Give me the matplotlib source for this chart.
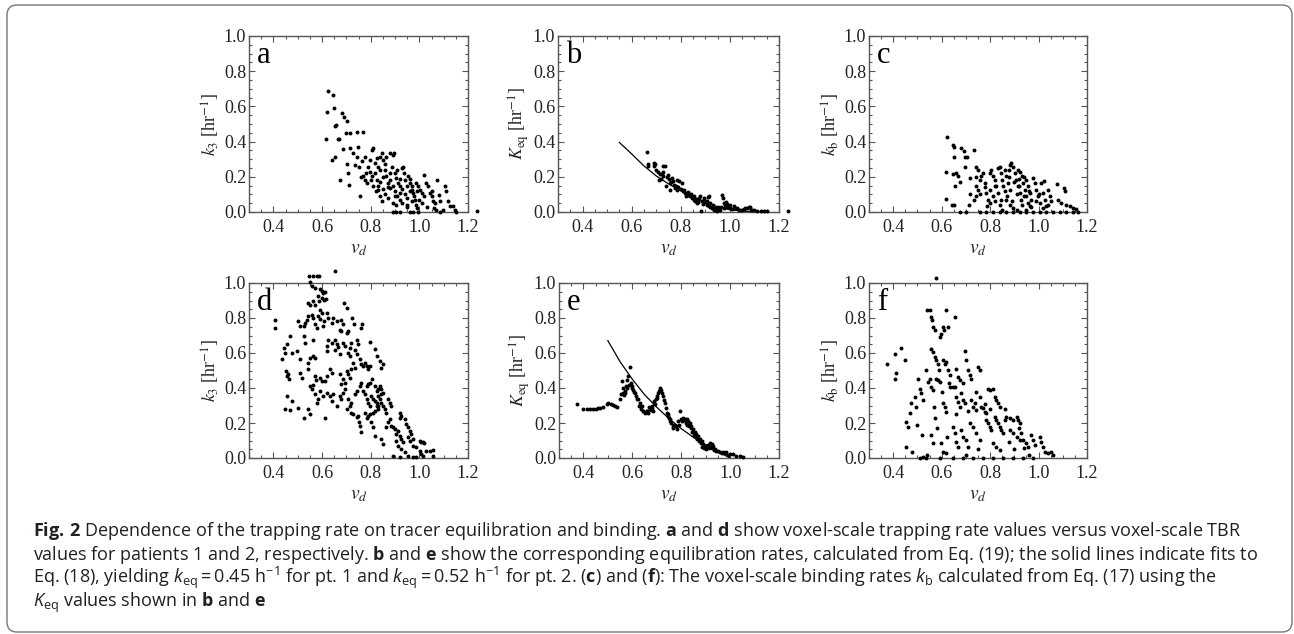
import matplotlib.pyplot as plt
from matplotlib.patches import FancyBboxPatch
from matplotlib.transforms import IdentityTransform
from matplotlib.ticker import FixedLocator, MultipleLocator, FormatStrFormatter

# ---- data (v_d, rate) ----
pts_a = [(0.624, 0.687), (0.647, 0.662), (0.620, 0.566), (0.651, 0.589), (0.652, 0.490), (0.656, 0.492),
         (0.617, 0.413), (0.665, 0.413), (0.671, 0.415), (0.681, 0.560), (0.691, 0.542), (0.704, 0.517),
         (0.697, 0.450), (0.715, 0.447), (0.745, 0.453), (0.770, 0.457), (0.643, 0.296), (0.652, 0.315),
         (0.685, 0.358), (0.674, 0.179), (0.701, 0.274), (0.708, 0.220), (0.711, 0.155), (0.715, 0.362),
         (0.729, 0.334), (0.749, 0.368), (0.742, 0.315), (0.735, 0.268), (0.753, 0.258), (0.763, 0.287),
         (0.777, 0.315), (0.756, 0.089), (0.770, 0.202), (0.777, 0.183), (0.783, 0.164), (0.790, 0.258),
         (0.797, 0.296), (0.804, 0.353), (0.811, 0.362), (0.797, 0.230), (0.804, 0.202), (0.811, 0.145),
         (0.817, 0.277), (0.824, 0.306), (0.831, 0.258), (0.838, 0.315), (0.845, 0.334), (0.817, 0.221),
         (0.824, 0.183), (0.831, 0.126), (0.838, 0.089), (0.845, 0.060), (0.852, 0.296), (0.859, 0.240),
         (0.865, 0.202), (0.872, 0.164), (0.879, 0.136), (0.865, 0.315), (0.879, 0.334), (0.893, 0.325),
         (0.897, 0.338), (0.886, 0.258), (0.900, 0.221), (0.906, 0.192), (0.913, 0.164), (0.920, 0.145),
         (0.890, 0.000), (0.906, 0.000), (0.920, 0.000), (0.900, 0.089), (0.906, 0.042), (0.920, 0.070),
         (0.927, 0.249), (0.934, 0.258), (0.937, 0.221), (0.941, 0.183), (0.948, 0.145), (0.954, 0.202),
         (0.961, 0.164), (0.968, 0.126), (0.975, 0.108), (0.982, 0.070), (0.988, 0.038), (0.995, 0.000),
         (0.948, 0.042), (0.961, 0.000), (0.975, 0.000), (0.988, 0.164), (0.995, 0.145), (1.002, 0.126),
         (1.009, 0.108), (1.018, 0.211), (1.029, 0.164), (1.036, 0.145), (1.043, 0.108), (1.050, 0.089),
         (1.056, 0.060), (1.063, 0.051), (1.074, 0.183), (1.081, 0.098), (1.086, 0.060), (1.104, 0.145),
         (1.111, 0.117), (1.118, 0.060), (1.125, 0.032), (1.070, 0.013), (1.084, 0.000), (1.097, 0.013),
         (1.138, 0.032), (1.145, 0.013), (1.152, 0.000), (1.237, 0.004),
         (0.82, 0.12), (0.83, 0.15), (0.84, 0.17), (0.85, 0.13), (0.86, 0.10), (0.87, 0.08), (0.88, 0.18),
         (0.89, 0.15), (0.90, 0.12), (0.91, 0.09), (0.92, 0.11), (0.93, 0.13), (0.94, 0.10), (0.95, 0.08),
         (0.96, 0.12), (0.97, 0.06), (0.98, 0.09), (0.99, 0.12), (1.00, 0.07), (1.01, 0.05), (1.02, 0.09),
         (1.03, 0.03), (0.86, 0.27), (0.88, 0.22), (0.91, 0.24), (0.93, 0.05), (0.95, 0.03), (0.97, 0.15),
         (0.80, 0.18), (0.78, 0.22), (0.76, 0.20), (0.85, 0.20), (0.87, 0.14), (0.89, 0.05), (1.05, 0.12),
         (1.06, 0.02), (0.99, 0.02), (0.96, 0.19), (0.92, 0.19), (0.84, 0.24)]

pts_b = [(0.661, 0.340), (0.665, 0.264), (0.689, 0.281), (0.695, 0.274), (0.691, 0.259), (0.709, 0.230),
         (0.715, 0.217), (0.712, 0.183), (0.722, 0.217), (0.729, 0.202), (0.729, 0.259), (0.736, 0.259),
         (0.743, 0.198), (0.750, 0.187), (0.756, 0.164), (0.763, 0.192), (0.767, 0.174), (0.773, 0.155),
         (0.777, 0.136), (0.784, 0.126), (0.786, 0.183), (0.794, 0.174), (0.804, 0.164), (0.811, 0.117),
         (0.818, 0.108), (0.824, 0.108), (0.831, 0.098), (0.838, 0.089), (0.845, 0.079), (0.852, 0.070),
         (0.859, 0.060), (0.865, 0.051), (0.872, 0.055), (0.879, 0.089), (0.881, 0.004), (0.893, 0.070),
         (0.900, 0.055), (0.906, 0.042), (0.913, 0.032), (0.920, 0.028), (0.927, 0.023), (0.934, 0.013),
         (0.941, 0.009), (0.948, 0.004), (0.961, 0.013), (0.967, 0.098), (0.970, 0.079), (0.974, 0.051),
         (0.981, 0.042), (0.988, 0.028), (0.995, 0.036), (1.002, 0.023), (1.009, 0.017), (1.015, 0.032),
         (1.029, 0.023), (1.036, 0.013), (1.043, 0.009), (1.056, 0.017), (1.070, 0.023), (1.077, 0.026),
         (1.084, 0.013), (1.097, 0.009), (1.111, 0.004), (1.125, 0.004), (1.138, 0.004), (1.152, 0.004),
         (1.237, 0.004),
         (0.668, 0.27), (0.70, 0.24), (0.72, 0.19), (0.74, 0.145), (0.756, 0.126), (0.76, 0.17), (0.78, 0.15),
         (0.79, 0.14), (0.80, 0.13), (0.815, 0.125), (0.82, 0.09), (0.83, 0.115), (0.84, 0.10), (0.85, 0.085),
         (0.855, 0.09), (0.86, 0.075), (0.87, 0.065), (0.875, 0.08), (0.885, 0.06), (0.89, 0.045),
         (0.895, 0.08), (0.905, 0.065), (0.91, 0.085), (0.915, 0.09), (0.92, 0.05), (0.93, 0.04),
         (0.935, 0.025), (0.945, 0.02), (0.95, 0.03), (0.955, 0.015), (0.965, 0.03), (0.975, 0.02),
         (0.985, 0.055), (0.99, 0.045), (1.00, 0.04), (1.02, 0.02), (1.05, 0.01), (1.06, 0.02), (1.08, 0.03),
         (1.09, 0.01), (0.746, 0.21), (0.727, 0.23)]

pts_c = [(0.623, 0.425), (0.619, 0.228), (0.616, 0.075), (0.647, 0.381), (0.650, 0.370), (0.651, 0.315),
         (0.647, 0.215), (0.658, 0.221), (0.644, 0.038), (0.651, 0.042), (0.656, 0.145), (0.669, 0.206),
         (0.674, 0.168), (0.681, 0.366), (0.691, 0.349), (0.695, 0.315), (0.695, 0.258), (0.706, 0.315),
         (0.716, 0.192), (0.718, 0.102), (0.711, 0.042), (0.733, 0.353), (0.743, 0.258), (0.750, 0.240),
         (0.743, 0.145), (0.750, 0.126), (0.733, 0.070), (0.743, 0.089), (0.757, 0.183), (0.764, 0.202),
         (0.771, 0.221), (0.778, 0.164), (0.784, 0.108), (0.791, 0.070), (0.787, 0.032), (0.798, 0.221),
         (0.805, 0.240), (0.812, 0.202), (0.819, 0.183), (0.798, 0.126), (0.812, 0.089), (0.819, 0.060),
         (0.826, 0.145), (0.833, 0.249), (0.839, 0.258), (0.846, 0.221), (0.850, 0.183), (0.833, 0.108),
         (0.839, 0.042), (0.846, 0.070), (0.853, 0.145), (0.860, 0.240), (0.867, 0.202), (0.874, 0.164),
         (0.881, 0.126), (0.881, 0.268), (0.888, 0.277), (0.895, 0.258), (0.867, 0.070), (0.881, 0.042),
         (0.895, 0.023), (0.901, 0.221), (0.908, 0.183), (0.915, 0.145), (0.922, 0.108), (0.929, 0.070),
         (0.915, 0.240), (0.922, 0.230), (0.933, 0.202), (0.936, 0.164), (0.943, 0.126), (0.950, 0.089),
         (0.957, 0.051), (0.963, 0.032), (0.950, 0.183), (0.957, 0.145), (0.963, 0.108), (0.970, 0.070),
         (0.977, 0.192), (0.984, 0.164), (0.991, 0.126), (0.998, 0.089), (1.005, 0.051), (1.011, 0.164),
         (1.018, 0.108), (1.025, 0.070), (1.032, 0.032), (1.022, 0.177), (1.039, 0.126), (1.046, 0.089),
         (1.053, 0.060), (1.076, 0.158), (1.080, 0.070), (1.104, 0.136), (1.109, 0.117), (1.094, 0.051),
         (1.115, 0.042), (1.128, 0.032), (1.142, 0.023), (1.156, 0.017),
         (0.674, 0.0), (0.702, 0.0), (0.757, 0.0), (0.784, 0.0), (0.812, 0.0), (0.839, 0.0), (0.867, 0.0),
         (0.895, 0.0), (0.922, 0.0), (0.950, 0.0), (0.977, 0.0), (1.005, 0.0), (1.032, 0.0), (1.060, 0.0),
         (1.087, 0.0), (1.115, 0.0), (1.142, 0.0), (1.163, 0.0),
         (0.86, 0.12), (0.87, 0.09), (0.89, 0.06), (0.91, 0.10), (0.92, 0.15), (0.93, 0.04), (0.94, 0.09),
         (0.96, 0.12), (0.97, 0.03), (0.99, 0.06), (1.00, 0.10), (1.02, 0.02), (1.04, 0.04), (0.88, 0.20),
         (0.90, 0.17), (0.94, 0.20), (0.82, 0.15), (0.80, 0.05), (0.78, 0.14), (0.76, 0.10), (0.74, 0.20),
         (0.88, 0.24), (0.92, 0.19), (0.95, 0.01), (0.85, 0.01), (0.91, 0.01)]

pts_d = [(0.548, 1.038), (0.565, 1.038), (0.578, 1.038), (0.588, 1.038), (0.653, 1.066), (0.551, 1.003),
         (0.558, 0.981), (0.571, 0.972), (0.592, 0.966), (0.599, 0.953), (0.605, 0.943), (0.612, 0.949),
         (0.544, 0.886), (0.551, 0.877), (0.565, 0.896), (0.571, 0.877), (0.585, 0.924), (0.589, 0.896),
         (0.599, 0.915), (0.608, 0.901), (0.616, 0.909), (0.592, 0.848), (0.599, 0.829), (0.408, 0.786),
         (0.408, 0.744), (0.503, 0.782), (0.510, 0.753), (0.524, 0.753), (0.531, 0.772), (0.537, 0.786),
         (0.544, 0.810), (0.558, 0.820), (0.565, 0.801), (0.571, 0.763), (0.578, 0.744), (0.585, 0.810),
         (0.592, 0.795), (0.605, 0.753), (0.608, 0.782), (0.619, 0.829), (0.626, 0.801), (0.640, 0.772),
         (0.646, 0.801), (0.660, 0.782), (0.690, 0.886), (0.701, 0.858), (0.680, 0.791), (0.687, 0.763),
         (0.674, 0.734), (0.680, 0.725), (0.701, 0.715), (0.708, 0.725), (0.725, 0.801), (0.731, 0.763),
         (0.760, 0.744), (0.765, 0.763), (0.742, 0.677), (0.749, 0.649), (0.721, 0.658), (0.715, 0.630),
         (0.687, 0.658), (0.694, 0.639), (0.653, 0.677), (0.660, 0.649), (0.667, 0.636), (0.626, 0.677),
         (0.640, 0.658), (0.565, 0.677), (0.524, 0.696), (0.531, 0.658), (0.469, 0.696), (0.476, 0.601),
         (0.442, 0.630), (0.458, 0.649), (0.449, 0.601), (0.435, 0.563), (0.496, 0.611), (0.510, 0.563),
         (0.544, 0.544), (0.551, 0.573), (0.565, 0.582), (0.571, 0.573), (0.619, 0.639), (0.619, 0.611),
         (0.653, 0.620), (0.674, 0.592), (0.708, 0.601), (0.715, 0.582), (0.735, 0.620), (0.742, 0.592),
         (0.796, 0.662), (0.817, 0.624), (0.824, 0.582), (0.837, 0.554), (0.844, 0.516), (0.851, 0.535),
         (0.776, 0.544), (0.783, 0.525), (0.790, 0.507), (0.796, 0.525), (0.756, 0.563), (0.762, 0.535),
         (0.769, 0.525), (0.728, 0.544), (0.735, 0.516), (0.721, 0.507), (0.701, 0.497), (0.708, 0.478),
         (0.715, 0.459), (0.687, 0.450), (0.694, 0.431), (0.674, 0.478), (0.680, 0.421), (0.633, 0.507),
         (0.640, 0.488), (0.619, 0.469), (0.612, 0.440), (0.592, 0.459), (0.599, 0.440), (0.571, 0.469),
         (0.575, 0.446), (0.544, 0.507), (0.551, 0.412), (0.510, 0.488), (0.517, 0.459), (0.462, 0.478),
         (0.466, 0.454), (0.458, 0.469), (0.453, 0.497), (0.455, 0.355), (0.476, 0.326), (0.449, 0.279),
         (0.469, 0.275), (0.524, 0.231), (0.503, 0.288), (0.544, 0.279), (0.551, 0.250), (0.578, 0.317),
         (0.585, 0.336), (0.571, 0.364), (0.558, 0.393), (0.565, 0.416), (0.592, 0.383), (0.605, 0.355),
         (0.619, 0.374), (0.612, 0.231), (0.633, 0.355), (0.640, 0.326), (0.646, 0.364), (0.660, 0.298),
         (0.674, 0.355), (0.680, 0.336), (0.687, 0.374), (0.694, 0.393), (0.708, 0.336), (0.701, 0.279),
         (0.715, 0.298), (0.721, 0.317), (0.735, 0.364), (0.742, 0.383), (0.756, 0.412), (0.762, 0.431),
         (0.769, 0.383), (0.776, 0.364), (0.783, 0.412), (0.790, 0.421), (0.799, 0.427), (0.807, 0.450),
         (0.817, 0.412), (0.824, 0.383), (0.831, 0.397), (0.837, 0.412), (0.844, 0.393), (0.851, 0.374),
         (0.844, 0.364), (0.831, 0.355), (0.803, 0.355), (0.810, 0.336), (0.817, 0.326), (0.824, 0.317),
         (0.831, 0.298), (0.783, 0.336), (0.790, 0.317), (0.796, 0.298), (0.721, 0.260), (0.728, 0.250),
         (0.742, 0.237), (0.749, 0.241), (0.753, 0.203), (0.756, 0.184), (0.762, 0.146), (0.776, 0.260),
         (0.783, 0.231), (0.790, 0.241), (0.796, 0.250), (0.803, 0.203), (0.810, 0.260), (0.817, 0.269),
         (0.824, 0.298), (0.831, 0.279), (0.837, 0.336), (0.844, 0.317), (0.851, 0.298), (0.858, 0.279),
         (0.865, 0.260), (0.871, 0.336), (0.878, 0.317), (0.885, 0.298), (0.810, 0.175), (0.817, 0.127),
         (0.844, 0.108), (0.851, 0.080), (0.865, 0.175), (0.871, 0.203), (0.878, 0.222), (0.885, 0.184),
         (0.892, 0.175), (0.899, 0.165), (0.905, 0.137), (0.912, 0.156), (0.919, 0.260), (0.919, 0.231),
         (0.926, 0.241), (0.919, 0.127), (0.926, 0.108), (0.933, 0.089), (0.905, 0.099), (0.940, 0.222),
         (0.946, 0.194), (0.953, 0.175), (0.960, 0.156), (0.967, 0.137), (0.953, 0.118), (0.960, 0.099),
         (0.974, 0.108), (1.001, 0.099), (1.008, 0.089), (1.015, 0.093), (1.021, 0.084), (0.974, 0.070),
         (0.987, 0.061), (1.001, 0.042), (1.008, 0.023), (1.015, 0.013), (1.028, 0.042), (1.042, 0.042),
         (1.055, 0.046), (0.912, 0.070), (0.926, 0.051), (0.940, 0.036), (0.953, 0.013), (0.974, 0.004),
         (0.987, 0.004), (0.892, 0.013), (0.919, 0.004), (1.055, 0.013)]

pts_e = [(0.375, 0.306), (0.399, 0.278), (0.413, 0.278), (0.427, 0.278), (0.438, 0.278), (0.451, 0.282),
         (0.461, 0.284), (0.467, 0.285), (0.481, 0.289), (0.495, 0.306), (0.502, 0.312), (0.511, 0.306),
         (0.522, 0.301), (0.529, 0.297), (0.538, 0.293), (0.549, 0.335), (0.552, 0.363), (0.556, 0.439),
         (0.560, 0.401), (0.563, 0.372), (0.570, 0.382), (0.576, 0.410), (0.579, 0.448), (0.583, 0.467),
         (0.590, 0.520), (0.587, 0.420), (0.597, 0.401), (0.604, 0.391), (0.610, 0.372), (0.615, 0.354),
         (0.624, 0.335), (0.631, 0.316), (0.638, 0.297), (0.645, 0.268), (0.651, 0.259), (0.658, 0.268),
         (0.665, 0.259), (0.672, 0.282), (0.679, 0.287), (0.685, 0.268), (0.689, 0.325), (0.696, 0.335),
         (0.702, 0.354), (0.706, 0.372), (0.710, 0.382), (0.715, 0.401), (0.719, 0.391), (0.726, 0.354),
         (0.733, 0.316), (0.737, 0.287), (0.740, 0.259), (0.747, 0.240), (0.753, 0.221), (0.760, 0.202),
         (0.767, 0.174), (0.767, 0.183), (0.778, 0.183), (0.783, 0.164), (0.787, 0.212), (0.797, 0.268),
         (0.801, 0.221), (0.808, 0.231), (0.815, 0.225), (0.822, 0.221), (0.828, 0.212), (0.835, 0.202),
         (0.842, 0.183), (0.849, 0.164), (0.856, 0.146), (0.862, 0.136), (0.869, 0.127), (0.876, 0.108),
         (0.883, 0.098), (0.890, 0.079), (0.896, 0.070), (0.903, 0.066), (0.910, 0.074), (0.917, 0.085),
         (0.924, 0.079), (0.930, 0.070), (0.937, 0.051), (0.944, 0.042), (0.958, 0.036), (0.971, 0.036),
         (0.985, 0.032), (0.999, 0.023), (1.012, 0.023), (1.026, 0.013), (1.039, 0.013), (1.053, 0.004),
         (0.565, 0.36), (0.572, 0.37), (0.580, 0.40), (0.593, 0.43), (0.600, 0.41), (0.607, 0.38),
         (0.618, 0.34), (0.628, 0.30), (0.635, 0.28), (0.642, 0.27), (0.655, 0.262), (0.662, 0.27),
         (0.668, 0.29), (0.676, 0.275), (0.682, 0.30), (0.692, 0.31), (0.699, 0.345), (0.712, 0.39),
         (0.722, 0.37), (0.729, 0.33), (0.744, 0.25), (0.750, 0.23), (0.756, 0.21), (0.771, 0.19),
         (0.790, 0.19), (0.805, 0.21), (0.812, 0.22), (0.818, 0.20), (0.825, 0.19), (0.832, 0.185),
         (0.838, 0.17), (0.845, 0.15), (0.852, 0.13), (0.859, 0.12), (0.866, 0.11), (0.872, 0.10),
         (0.880, 0.085), (0.887, 0.065), (0.894, 0.055), (0.900, 0.050), (0.914, 0.060), (0.920, 0.065),
         (0.927, 0.055), (0.934, 0.045), (0.950, 0.040), (0.965, 0.03), (0.978, 0.028), (0.992, 0.02)]

pts_f = [(0.575, 1.030), (0.374, 0.536), (0.406, 0.593), (0.409, 0.454), (0.413, 0.483), (0.433, 0.631),
         (0.447, 0.559), (0.454, 0.207), (0.461, 0.179), (0.451, 0.065), (0.468, 0.255), (0.475, 0.312),
         (0.479, 0.032), (0.489, 0.350), (0.495, 0.293), (0.498, 0.188), (0.502, 0.454), (0.509, 0.397),
         (0.516, 0.369), (0.523, 0.331), (0.523, 0.008), (0.537, 0.502), (0.544, 0.435), (0.551, 0.454),
         (0.541, 0.844), (0.551, 0.848), (0.557, 0.806), (0.561, 0.787), (0.564, 0.749), (0.571, 0.730),
         (0.557, 0.625), (0.564, 0.606), (0.571, 0.578), (0.578, 0.559), (0.585, 0.540), (0.589, 0.502),
         (0.557, 0.407), (0.564, 0.388), (0.567, 0.293), (0.578, 0.454), (0.585, 0.445), (0.592, 0.435),
         (0.557, 0.131), (0.564, 0.084), (0.571, 0.226), (0.592, 0.692), (0.598, 0.711), (0.605, 0.749),
         (0.608, 0.730), (0.619, 0.844), (0.626, 0.749), (0.605, 0.559), (0.612, 0.540), (0.619, 0.549),
         (0.626, 0.502), (0.633, 0.473), (0.605, 0.312), (0.612, 0.293), (0.619, 0.264), (0.598, 0.084),
         (0.605, 0.036), (0.619, 0.027), (0.633, 0.407), (0.647, 0.407), (0.654, 0.407), (0.654, 0.806),
         (0.661, 0.511), (0.668, 0.464), (0.675, 0.445), (0.661, 0.350), (0.668, 0.321), (0.675, 0.293),
         (0.647, 0.179), (0.654, 0.141), (0.661, 0.093), (0.668, 0.065), (0.681, 0.369), (0.688, 0.331),
         (0.695, 0.312), (0.695, 0.612), (0.702, 0.559), (0.709, 0.502), (0.716, 0.473), (0.681, 0.160),
         (0.688, 0.122), (0.702, 0.103), (0.709, 0.065), (0.723, 0.331), (0.729, 0.293), (0.736, 0.312),
         (0.743, 0.274), (0.723, 0.454), (0.750, 0.521), (0.757, 0.502), (0.716, 0.198), (0.729, 0.179),
         (0.743, 0.141), (0.757, 0.103), (0.764, 0.293), (0.771, 0.283), (0.778, 0.264), (0.785, 0.255),
         (0.791, 0.397), (0.798, 0.388), (0.812, 0.397), (0.785, 0.217), (0.791, 0.198), (0.798, 0.179),
         (0.805, 0.160), (0.819, 0.350), (0.826, 0.331), (0.833, 0.312), (0.840, 0.293), (0.819, 0.236),
         (0.826, 0.217), (0.833, 0.198), (0.840, 0.179), (0.847, 0.160), (0.853, 0.141), (0.812, 0.084),
         (0.826, 0.065), (0.840, 0.046), (0.860, 0.217), (0.867, 0.236), (0.881, 0.226), (0.895, 0.217),
         (0.881, 0.160), (0.895, 0.141), (0.909, 0.122), (0.922, 0.103), (0.909, 0.236), (0.915, 0.217),
         (0.922, 0.198), (0.929, 0.141), (0.936, 0.103), (0.950, 0.084), (0.957, 0.065), (0.970, 0.131),
         (0.977, 0.103), (0.984, 0.074), (1.005, 0.122), (1.011, 0.093), (1.018, 0.065), (1.025, 0.036),
         (1.039, 0.027), (1.053, 0.036), (1.060, 0.017),
         (0.509, 0.0), (0.537, 0.0), (0.592, 0.0), (0.647, 0.0), (0.688, 0.0), (0.729, 0.0), (0.771, 0.0),
         (0.812, 0.0), (0.853, 0.0), (0.895, 0.0), (0.936, 0.0), (0.977, 0.0),
         (0.60, 0.38), (0.63, 0.43), (0.66, 0.25), (0.69, 0.43), (0.71, 0.27), (0.74, 0.38), (0.76, 0.35),
         (0.78, 0.31), (0.80, 0.28), (0.86, 0.28), (0.88, 0.09), (0.90, 0.05), (0.92, 0.17), (0.94, 0.06),
         (0.96, 0.02), (0.52, 0.13), (0.54, 0.02), (0.58, 0.17), (0.62, 0.12), (0.70, 0.02), (0.75, 0.05)]

# fitted curves
fit_b_x = [0.55, 0.60, 0.65, 0.70, 0.75, 0.80, 0.85, 0.90, 0.95, 1.00, 1.05, 1.10, 1.15]
fit_b_y = [0.395, 0.330, 0.262, 0.205, 0.160, 0.120, 0.085, 0.055, 0.030, 0.013, 0.005, 0.001, 0.0]
fit_e_x = [0.50, 0.55, 0.60, 0.65, 0.70, 0.75, 0.80, 0.85, 0.90, 0.95, 1.00]
fit_e_y = [0.670, 0.550, 0.450, 0.362, 0.290, 0.225, 0.168, 0.118, 0.075, 0.036, 0.0]

ylabels = [r"$k_3$ [hr$^{-1}$]", r"$K_{\mathrm{eq}}$ [hr$^{-1}$]", r"$k_{\mathrm{b}}$ [hr$^{-1}$]"]
letters = ["a", "b", "c", "d", "e", "f"]

caption = [
    r"$\mathbf{Fig.\,2}$ Dependence of the trapping rate on tracer equilibration and binding. "
    r"$\mathbf{a}$ and $\mathbf{d}$ show voxel-scale trapping rate values versus voxel-scale TBR",
    r"values for patients 1 and 2, respectively. $\mathbf{b}$ and $\mathbf{e}$ show the corresponding "
    r"equilibration rates, calculated from Eq. (19); the solid lines indicate fits to",
    r"Eq. (18), yielding $k_{\mathrm{eq}}=0.45\ \mathrm{h}^{-1}$ for pt. 1 and "
    r"$k_{\mathrm{eq}}=0.52\ \mathrm{h}^{-1}$ for pt. 2. ($\mathbf{c}$) and ($\mathbf{f}$): "
    r"The voxel-scale binding rates $k_{\mathrm{b}}$ calculated from Eq. (17) using the",
    r"$K_{\mathrm{eq}}$ values shown in $\mathbf{b}$ and $\mathbf{e}$",
]

SERIF = "Liberation Serif"
FRAME = "#555555"

plt.rcParams["mathtext.fontset"] = "custom"
plt.rcParams["mathtext.rm"] = "Open Sans"
plt.rcParams["mathtext.it"] = "Open Sans:italic"
plt.rcParams["mathtext.bf"] = "Open Sans:bold"

W, H = 1294, 634
fig = plt.figure(figsize=(W / 100, H / 100), dpi=100)

# axes boxes in pixels: left, top, right, bottom
boxes = [(249, 36, 468, 212), (558, 36, 779, 212), (869, 36, 1087, 212),
         (249, 283, 468, 458), (559, 283, 779, 458), (869, 283, 1087, 458)]
all_pts = [pts_a, pts_b, pts_c, pts_d, pts_e, pts_f]


def style_axes(ax, ylabel, letter):
    ax.set_xlim(0.3, 1.2)
    ax.set_ylim(0.0, 1.0)
    ax.xaxis.set_major_locator(FixedLocator([0.4, 0.6, 0.8, 1.0, 1.2]))
    ax.yaxis.set_major_locator(FixedLocator([0.0, 0.2, 0.4, 0.6, 0.8, 1.0]))
    ax.xaxis.set_minor_locator(MultipleLocator(0.05))
    ax.yaxis.set_minor_locator(MultipleLocator(0.05))
    ax.xaxis.set_major_formatter(FormatStrFormatter("%.1f"))
    ax.yaxis.set_major_formatter(FormatStrFormatter("%.1f"))
    ax.tick_params(which="both", direction="in", top=True, right=True, color=FRAME, width=0.8)
    ax.tick_params(which="major", length=4)
    ax.tick_params(which="minor", length=2)
    ax.tick_params(axis="x", pad=5)
    ax.tick_params(axis="y", pad=2)
    for lab in ax.get_xticklabels() + ax.get_yticklabels():
        lab.set_fontfamily(SERIF)
        lab.set_fontsize(13)
        lab.set_color("#222222")
    for sp in ax.spines.values():
        sp.set_color(FRAME)
        sp.set_linewidth(1.0)
    ax.set_xlabel(r"$v_d$", fontsize=14, family=SERIF, math_fontfamily="stix", labelpad=4, color="#222222")
    ax.set_ylabel(ylabel, fontsize=13, family=SERIF, math_fontfamily="stix", labelpad=1, color="#222222")
    ax.text(0.035, 0.845, letter, transform=ax.transAxes, fontsize=22, family=SERIF,
            ha="left", va="baseline")


for i, (box, pts) in enumerate(zip(boxes, all_pts)):
    l, t, r, b = box
    ax = fig.add_axes([l / W, 1 - b / H, (r - l) / W, (b - t) / H])
    xs, ys = zip(*pts)
    ax.scatter(xs, ys, s=8, color="black", linewidths=0, clip_on=False, zorder=3)
    if i == 1:
        ax.plot(fit_b_x, fit_b_y, color="black", lw=0.9)
    if i == 4:
        ax.plot(fit_e_x, fit_e_y, color="black", lw=0.9)
    style_axes(ax, ylabels[i % 3], letters[i])

# caption box
frame = FancyBboxPatch((7, 2), 1285, 627, boxstyle="round,pad=0,rounding_size=10",
                       transform=IdentityTransform(), fill=False, ec="#777777", lw=1.0)
fig.patches.append(frame)

baselines = [536, 559.5, 583, 607]
for line, yb in zip(caption, baselines):
    fig.text(33 / W, 1 - yb / H, line, fontsize=13, family="Open Sans",
             math_fontfamily="custom", ha="left", va="baseline", color="#231f20")

fig.savefig("out.png", dpi=100)
